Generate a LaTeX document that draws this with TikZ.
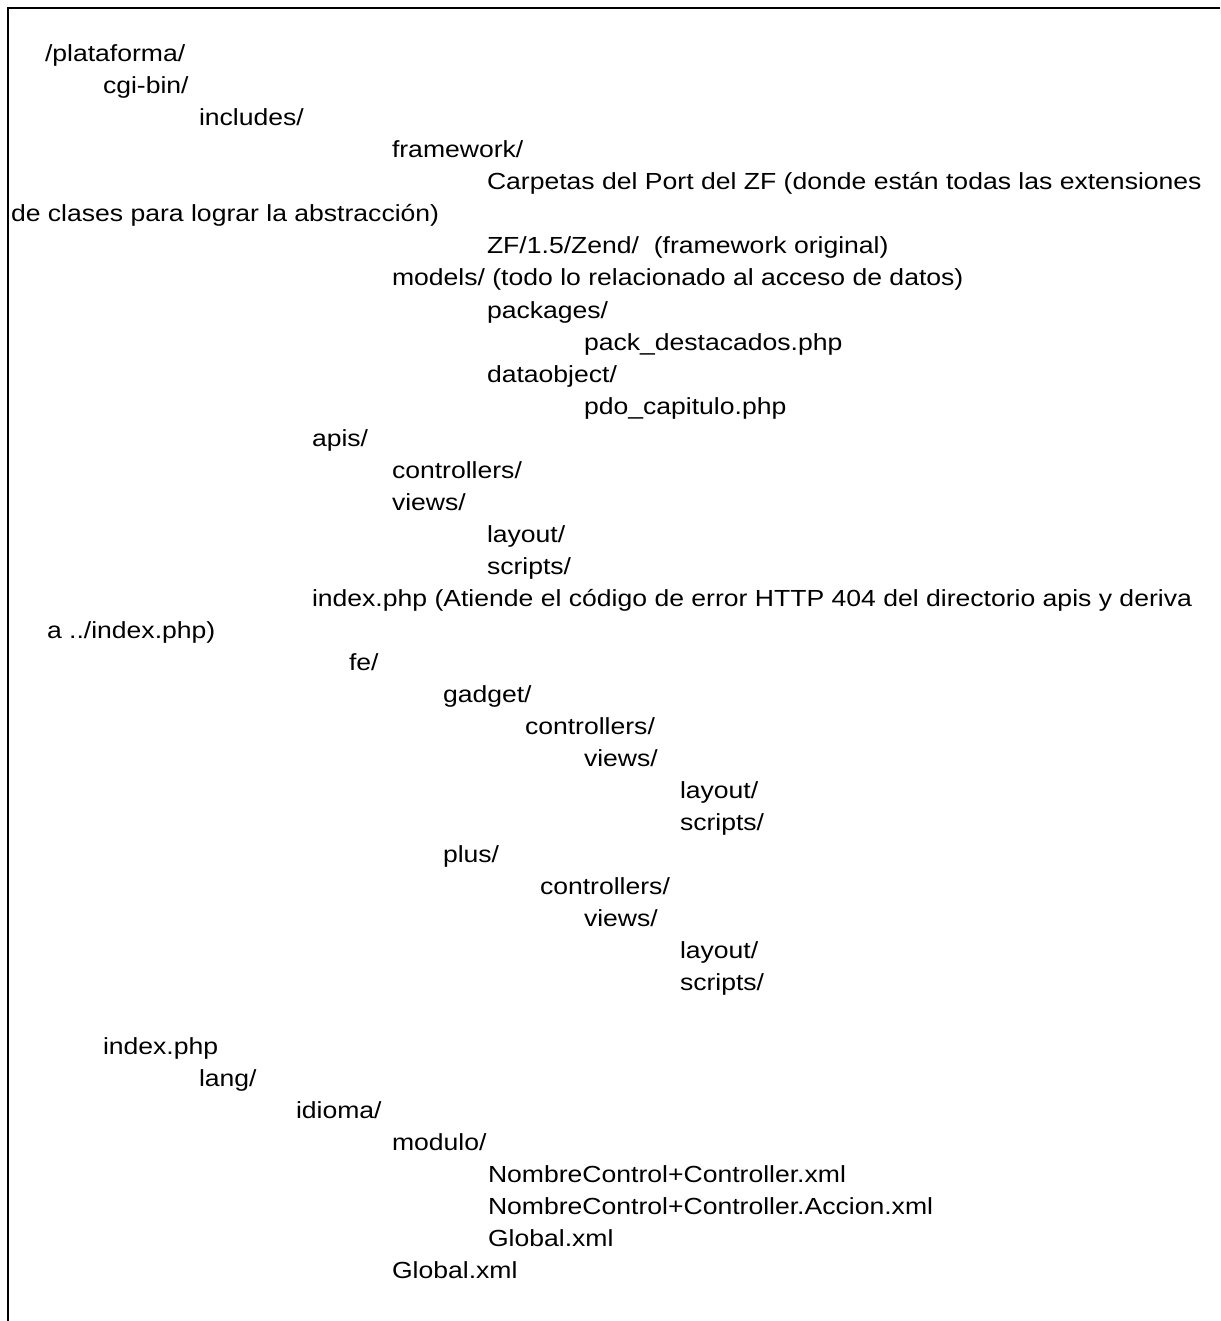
\documentclass[tikz,border=0pt]{standalone}
\usepackage{fontspec}
\setmainfont{Liberation Sans}
% listing text is set slightly wide
\newcommand{\widetext}[1]{\scalebox{1.14}[1]{#1}}
\begin{document}
\begin{tikzpicture}[x=1pt,y=-1pt,
  entry/.style={anchor=base west,inner sep=0pt,outer sep=0pt,
    font=\fontsize{23.3}{28}\selectfont,text=black},
  frame/.style={draw=black,line width=2pt}]
\useasboundingbox (0,0) rectangle (1220,1321);
% frame: top and left edges
\coordinate (fTR) at (1220,8);
\coordinate (fTL) at (8,8);
\coordinate (fBL) at (8,1321);
\draw[frame] (fTR) -- (fTL) -- (fBL);
% directory listing, one line each
\node[entry] (l01) at (45,62)   {\widetext{/plataforma/}};
\node[entry] (l02) at (103,94)  {\widetext{cgi-bin/}};
\node[entry] (l03) at (199,126) {\widetext{includes/}};
\node[entry] (l04) at (392,158) {\widetext{framework/}};
\node[entry] (l05) at (487,190) {\widetext{Carpetas del Port del ZF (donde están todas las extensiones}};
\node[entry] (l06) at (11,222)  {\widetext{de clases para lograr la abstracción)}};
\node[entry] (l07) at (487,254) {\widetext{ZF/1.5/Zend/\ \ (framework original)}};
\node[entry] (l08) at (392,286) {\widetext{models/ (todo lo relacionado al acceso de datos)}};
\node[entry] (l09) at (487,318) {\widetext{packages/}};
\node[entry] (l10) at (584,350) {\widetext{pack\_destacados.php}};
\node[entry] (l11) at (487,382) {\widetext{dataobject/}};
\node[entry] (l12) at (584,414) {\widetext{pdo\_capitulo.php}};
\node[entry] (l13) at (312,446) {\widetext{apis/}};
\node[entry] (l14) at (392,478) {\widetext{controllers/}};
\node[entry] (l15) at (392,510) {\widetext{views/}};
\node[entry] (l16) at (487,542) {\widetext{layout/}};
\node[entry] (l17) at (487,574) {\widetext{scripts/}};
\node[entry] (l18) at (312,606) {\widetext{index.php (Atiende el código de error HTTP 404 del directorio apis y deriva}};
\node[entry] (l19) at (47,638)  {\widetext{a ../index.php)}};
\node[entry] (l20) at (349,670) {\widetext{fe/}};
\node[entry] (l21) at (443,702) {\widetext{gadget/}};
\node[entry] (l22) at (525,734) {\widetext{controllers/}};
\node[entry] (l23) at (584,766) {\widetext{views/}};
\node[entry] (l24) at (680,798) {\widetext{layout/}};
\node[entry] (l25) at (680,830) {\widetext{scripts/}};
\node[entry] (l26) at (443,862) {\widetext{plus/}};
\node[entry] (l27) at (540,894) {\widetext{controllers/}};
\node[entry] (l28) at (584,926) {\widetext{views/}};
\node[entry] (l29) at (680,958) {\widetext{layout/}};
\node[entry] (l30) at (680,990) {\widetext{scripts/}};
\node[entry] (l32) at (103,1054) {\widetext{index.php}};
\node[entry] (l33) at (199,1086) {\widetext{lang/}};
\node[entry] (l34) at (296,1118) {\widetext{idioma/}};
\node[entry] (l35) at (392,1150) {\widetext{modulo/}};
\node[entry] (l36) at (488,1182) {\widetext{NombreControl+Controller.xml}};
\node[entry] (l37) at (488,1214) {\widetext{NombreControl+Controller.Accion.xml}};
\node[entry] (l38) at (488,1246) {\widetext{Global.xml}};
\node[entry] (l39) at (392,1278) {\widetext{Global.xml}};
\end{tikzpicture}
\end{document}
